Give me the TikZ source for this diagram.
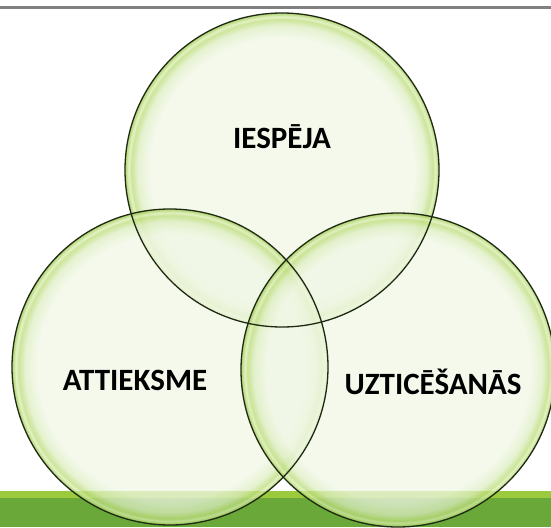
\documentclass[tikz,border=0pt]{standalone}
\usepackage{fontspec}
\setmainfont{Carlito}
\definecolor{pale}{HTML}{F1F7E6}
\definecolor{midg}{HTML}{DDEEC0}
\definecolor{rimlight}{HTML}{BCDC78}
\definecolor{rimhi}{HTML}{DCEFB4}
\definecolor{rimgreen}{HTML}{98C644}
\definecolor{barlight}{HTML}{9BCB3C}
\definecolor{bardark}{HTML}{6AA939}
\definecolor{topline}{HTML}{808080}
\definecolor{outline}{HTML}{1F2A12}
\pgfdeclareradialshading{vennrim}{\pgfpoint{0bp}{0bp}}{color(0bp)=(pale); color(21bp)=(pale); color(23bp)=(midg); color(24bp)=(rimlight); color(24.4bp)=(rimhi); color(25bp)=(rimgreen); color(50bp)=(rimgreen)}
\tikzset{
  venn/.style={shading=vennrim, opacity=0.75},
  vennline/.style={draw=outline, line width=1.3pt},
  lbl/.style={font=\bfseries\fontsize{31}{34}\selectfont, text=black, inner sep=0pt}
}
\begin{document}
\begin{tikzpicture}[x=1pt,y=-1pt]
\useasboundingbox (0,0) rectangle (551,527);
\fill[white] (0,0) rectangle (551,527);
% top gray line
\fill[topline] (0,6.5) rectangle (551,9);
% bottom bar
\fill[barlight] (0,491) rectangle (551,498);
\fill[bardark] (0,498) rectangle (551,527);
% circles
\coordinate (ct) at (282,170);
\coordinate (cl) at (170,367);
\coordinate (cr) at (398,370);
\begin{scope}
\clip (0,0) rectangle (551,527);
\shade[venn] (ct) circle (157);
\shade[venn] (cl) circle (158);
\shade[venn] (cr) circle (157);
\draw[vennline] (ct) circle (157);
\draw[vennline] (cl) circle (158);
\draw[vennline] (cr) circle (157);
\end{scope}
\node[lbl] (t1) at (282,137) {IESPĒJA};
\node[lbl] (t2) at (135,380) {ATTIEKSME};
\node[lbl] (t3) at (433,382) {UZTICĒŠANĀS};
\end{tikzpicture}
\end{document}
